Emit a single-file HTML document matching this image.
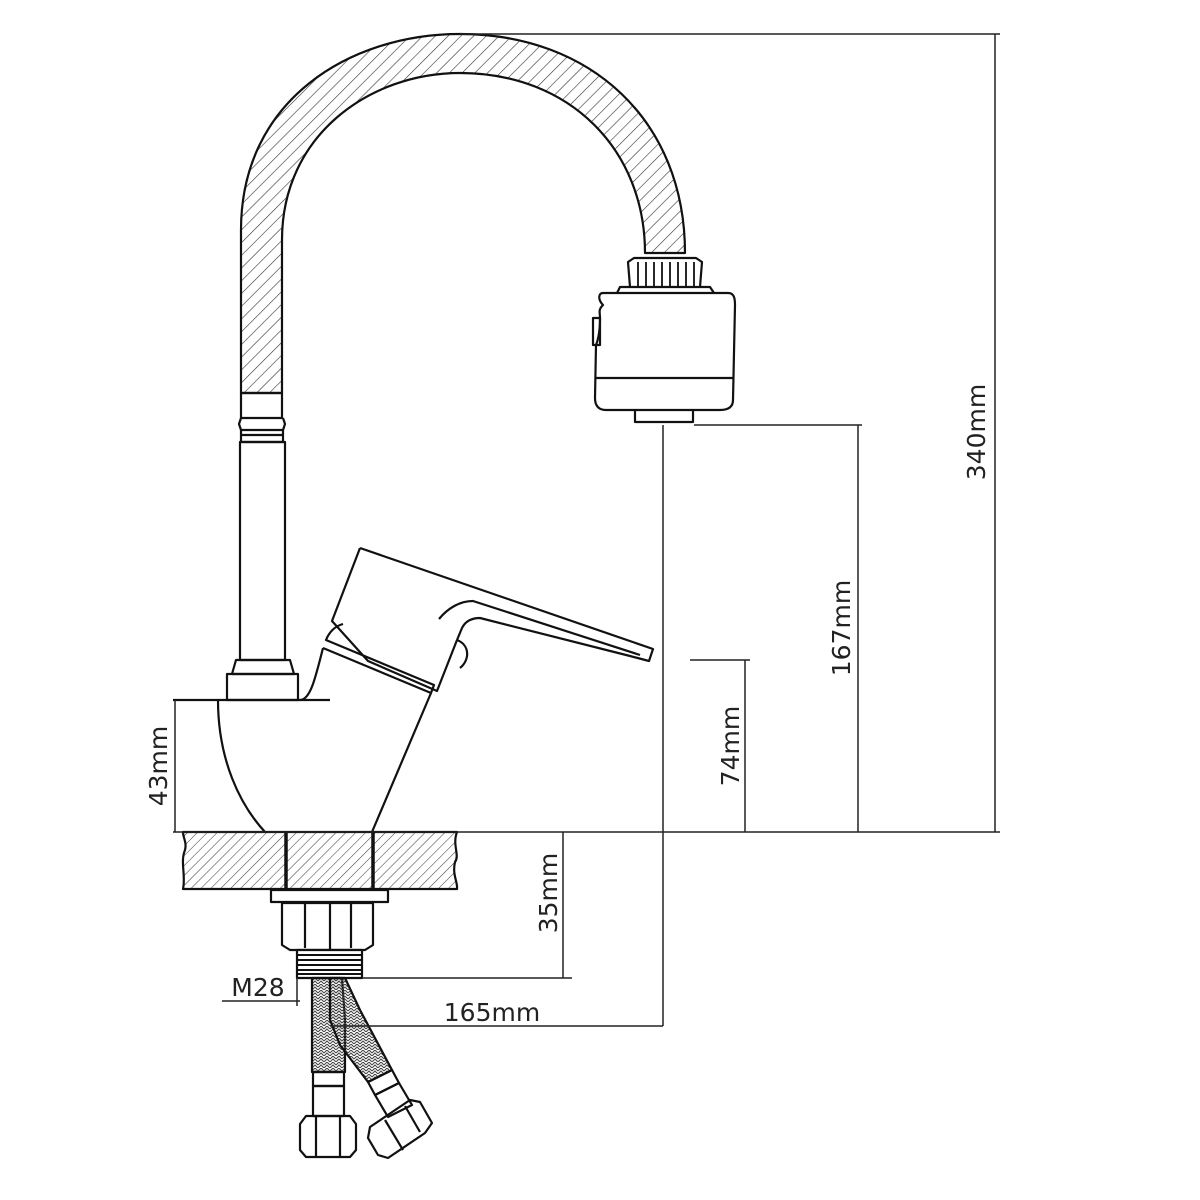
<!DOCTYPE html>
<html><head><meta charset="utf-8"><style>
html,body{margin:0;padding:0;background:#fff}
svg{display:block}
text{font-family:"DejaVu Sans","Liberation Sans",sans-serif;font-size:25px;fill:#222}
</style></head><body>
<svg width="1200" height="1200" viewBox="0 0 1200 1200" xmlns="http://www.w3.org/2000/svg">
<defs>
<pattern id="h" width="9" height="9" patternUnits="userSpaceOnUse" patternTransform="rotate(45)">
<line x1="0" y1="0" x2="0" y2="9" stroke="#333" stroke-width="1.2"/>
</pattern>
<pattern id="h2" width="7" height="7" patternUnits="userSpaceOnUse" patternTransform="rotate(45)">
<line x1="0" y1="0" x2="0" y2="7" stroke="#444" stroke-width="1.1"/>
</pattern>
<pattern id="x" width="6" height="6" patternUnits="userSpaceOnUse">
<path d="M0,3 L3,0 L6,3 M0,6 L3,3 L6,6" stroke="#444" stroke-width="1.1" fill="none"/>
</pattern>
</defs>
<g fill="none" stroke="#111" stroke-width="2.2" stroke-linejoin="round">
<path d="M241,393 L241,230 C241,100 350,34 460,34 C590,34 685,120 685,253 L645,253 C645,150 570,73 460,73 C370,73 282,135 282,240 L282,393 Z" fill="url(#h)"/>
<rect x="241" y="393" width="41" height="25"/>
<path d="M241,418 L239,424 L241,430 L283,430 L285,424 L283,418"/>
<path d="M241,430 L241,442 L283,442 L283,430 M241,435 L283,435"/>
<rect x="240" y="442" width="45" height="218"/>
<path d="M236,660 L232,674 L294,674 L290,660 Z"/>
<rect x="227" y="674" width="71" height="26"/>
<path d="M173,700 L330,700"/>
<path d="M218,700 C218,760 240,805 265,832"/>
<path d="M300,700 C310,700 315,680 323,648"/>
<path d="M431,693 L372,832"/>
<path d="M323,648 L431,693 L434,685 L326,640 C330,630 336,626 343,624"/>
<path d="M360,548 L332,621 L368,661 L437,691 L457,640"/>
<path d="M360,548 L653,649 L649,661 L630,656 L480,618 C470,618 465,622 462,628 L457,640"/>
<path d="M439,619 C448,608 460,601 473,601 L640,655"/>
<path d="M457,640 C470,645 470,660 460,668"/>
<path d="M183,832 L457,832 C452,845 460,855 455,862 C452,875 458,882 457,889 L183,889 C186,875 180,862 185,850 C187,842 183,838 183,832 Z" fill="url(#h2)"/>
<path d="M286,832 L286,889 M373,832 L373,889" stroke-width="3.5"/>
<rect x="271" y="890" width="117" height="12" fill="#fff"/>
<path d="M282,903 L282,945 L290,950 L365,950 L373,945 L373,903 Z" fill="#fff"/>
<path d="M305,903 L305,948 M330,903 L330,950 M351,903 L351,948"/>
<rect x="297" y="950" width="65" height="28" fill="#fff"/>
<path d="M298,955 L361,955 M298,960 L361,960 M298,965 L361,965 M298,970 L361,970 M298,974 L361,974" stroke-width="2"/>
<path d="M312,978 L342,978 L345,1020 L345,1072 L312,1072 Z" fill="url(#x)"/>
<path d="M330,978 L345,978 L360,1010 L392,1070 L368,1082 L340,1045 L330,1020 Z" fill="url(#x)"/>
<rect x="313" y="1072" width="31" height="14"/>
<rect x="313" y="1086" width="31" height="30"/>
<path d="M300,1124 L306,1116 L350,1116 L356,1124 L356,1150 L350,1157 L306,1157 L300,1150 Z"/>
<path d="M316,1116 L316,1157 M340,1116 L340,1157"/>
<path d="M368,1082 L392,1070 L399,1083 L375,1095 Z"/>
<path d="M375,1095 L399,1083 L412,1105 L388,1117 Z"/>
<path d="M370,1127 L410,1100 L420,1102 L432,1123 L425,1133 L388,1158 L378,1155 L368,1138 Z"/>
<path d="M385,1120 L403,1150 M405,1106 L420,1132"/>
<path d="M630,287 L628,262 L634,258 L696,258 L702,262 L700,287"/>
<path d="M638,262 L638,287 M646,262 L646,287 M654,262 L654,287 M662,262 L662,287 M670,262 L670,287 M678,262 L678,287 M686,262 L686,287 M694,262 L694,287" stroke-width="1.8"/>
<path d="M617,293 L620,287 L710,287 L714,293"/>
<path d="M603,293 L728,293 C734,293 735,298 735,305 L733,400 C733,407 728,410 720,410 L606,410 C598,410 595,405 595,398 L596,345 C598,340 600,330 600,318 C600,312 598,310 603,305 C598,300 598,293 603,293 Z"/>
<path d="M596,378 L734,378"/>
<path d="M593,318 L600,318 L600,345 L593,345 Z"/>
<path d="M635,410 L635,422 L693,422 L693,410"/>
</g>
<g stroke="#222" stroke-width="1.5" fill="none">
<path d="M173,832 L1000,832"/>
<path d="M460,34 L1000,34"/>
<path d="M995,34 L995,832"/>
<path d="M694,425 L862,425"/>
<path d="M858,425 L858,832"/>
<path d="M690,660 L750,660"/>
<path d="M745,660 L745,832"/>
<path d="M175,700 L175,832"/>
<path d="M663,425 L663,1026"/>
<path d="M362,978 L572,978"/>
<path d="M563,832 L563,978"/>
<path d="M222,1001 L300,1001"/>
<path d="M297,977 L297,1006"/>
<path d="M330,1026 L663,1026"/>
</g>
<text transform="translate(985,432) rotate(-90)" text-anchor="middle">340mm</text>
<text transform="translate(850,628) rotate(-90)" text-anchor="middle">167mm</text>
<text transform="translate(739,746) rotate(-90)" text-anchor="middle">74mm</text>
<text transform="translate(167,766) rotate(-90)" text-anchor="middle">43mm</text>
<text transform="translate(557,893) rotate(-90)" text-anchor="middle">35mm</text>
<text x="258" y="996" text-anchor="middle">M28</text>
<text x="492" y="1021" text-anchor="middle">165mm</text>
</svg>
</body></html>
